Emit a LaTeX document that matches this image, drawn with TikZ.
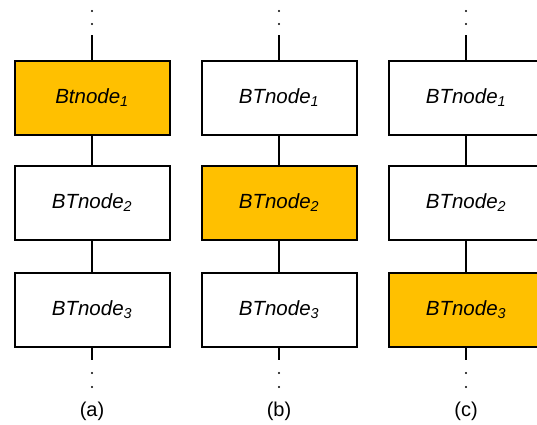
\documentclass[tikz,border=0pt]{standalone}
\usepackage{fontspec}
\setmainfont{Liberation Sans}
\definecolor{amber}{HTML}{FFC000}
\begin{document}
\begin{tikzpicture}[x=1pt,y=-1pt,
  bt/.style={draw=black, line width=2pt, fill=white, minimum width=155pt, minimum height=74pt, inner sep=0pt,
    font=\fontsize{20.5}{24}\selectfont\itshape},
  hl/.style={fill=amber},
  link/.style={line width=2pt},
  dotmark/.style={circle, fill=black, inner sep=0pt, minimum size=2.2pt},
  lab/.style={font=\fontsize{20}{24}\selectfont}]
\useasboundingbox (0,0) rectangle (537,424);
\clip (0,0) rectangle (537,424);
\foreach \c/\x/\k in {a/92/1,b/279/2,c/466/3}{
  \node[bt] (\c1) at (\x,97.5) {\ifnum\k=1 Btnode\else BTnode\fi\textsubscript{1}};
  \node[bt] (\c2) at (\x,203) {BTnode\textsubscript{2}};
  \node[bt] (\c3) at (\x,310) {BTnode\textsubscript{3}};
  \node[dotmark] (\c t1) at (\x,11) {};
  \node[dotmark] (\c t2) at (\x,24) {};
  \coordinate (\c top) at (\x,35);
  \coordinate (\c bot) at (\x,360);
  \node[dotmark] (\c b1) at (\x,373) {};
  \node[dotmark] (\c b2) at (\x,387) {};
  \node[lab] (\c lab) at (\x,411) {(\c)};
  \draw[link] (\c top) -- (\c1.north);
  \draw[link] (\c1) -- (\c2);
  \draw[link] (\c2) -- (\c3);
  \draw[link] (\c3.south) -- (\c bot);
}
\node[bt,hl] at (a1) {Btnode\textsubscript{1}};
\node[bt,hl] at (b2) {BTnode\textsubscript{2}};
\node[bt,hl] at (c3) {BTnode\textsubscript{3}};
\end{tikzpicture}
\end{document}
